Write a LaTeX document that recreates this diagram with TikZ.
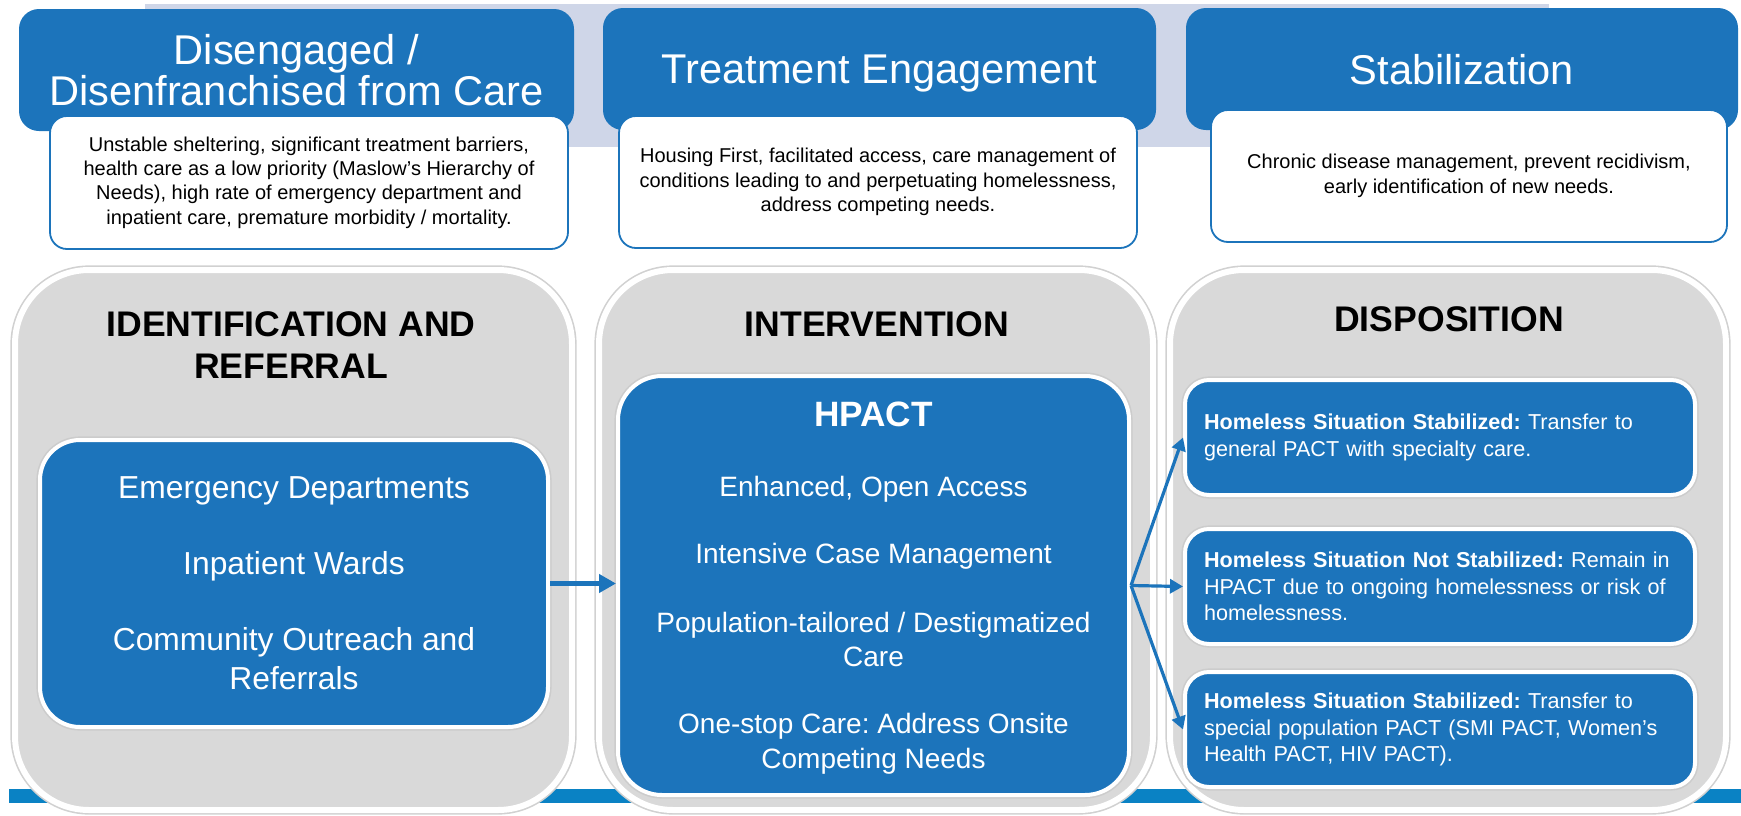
\documentclass[tikz,border=0pt]{standalone}
\usepackage{fontspec}
\setmainfont{Liberation Sans}
\usetikzlibrary{arrows.meta}
\definecolor{hblue}{RGB}{28,116,187}
\definecolor{hline}{RGB}{10,130,196}
\definecolor{hgray}{RGB}{217,217,217}
\definecolor{hband}{RGB}{207,214,232}
\tikzset{
	headbox/.style={fill=hblue, rounded corners=10pt, inner sep=0pt, text=white, text depth=0pt, align=center, font=\fontsize{20.8}{20.75}\selectfont},
	notebox/.style={fill=white, draw=hblue, line width=0.9pt, rounded corners=8.5pt, inner sep=0pt, align=center, font=\fontsize{10}{12.2}\selectfont},
	panel/.style={fill=hgray, draw=white, line width=3pt, rounded corners=37pt, preaction={draw=black!18, line width=4.6pt}},
	coltitle/.style={inner sep=0pt, align=center, font=\bfseries\fontsize{17.8}{21}\selectfont},
	stepbox/.style={fill=hblue, draw=white, line width=2pt, text=white, inner sep=0pt, align=center, preaction={draw=black!20, line width=3.6pt}},
	outbox/.style={stepbox, rounded corners=12pt, minimum width=255pt, minimum height=57.5pt, text width=236pt, inner xsep=9.5pt, align=left, font=\fontsize{10.8}{13.3}\selectfont},
	flow/.style={draw=hblue, line width=2.2pt, -{Triangle[length=8.5pt, width=9pt]}},
	fanflow/.style={draw=hblue, line width=1.6pt, -{Triangle[length=6.5pt, width=7pt]}}
}

\begin{document}
\frenchspacing
\begin{tikzpicture}[x=0.5pt,y=-0.5pt]
	%%%%% START %%%%%
	\useasboundingbox (0,0) rectangle (1741,815);
	\clip (0,0) rectangle (1741,815);
	
	% band behind the headers, rule along the foot
	\draw[fill=hband, draw=none] (145,4) rectangle (1549,147);
	\draw[fill=hline, draw=none] (9,789) rectangle (1741,803);
	
	% grey columns
	\node[panel, minimum width=278.5pt, minimum height=270pt] (col1) at (293.5,540) {};
	\node[panel, minimum width=277pt, minimum height=270pt] (col2) at (876,540) {};
	\node[panel, minimum width=278pt, minimum height=270pt] (col3) at (1448,540) {};
	
	% stage headers
	\node[headbox, minimum width=277.5pt, minimum height=61pt] (stage1) at (296.5,70) {Disengaged /\\Disenfranchised from Care};
	\node[headbox, minimum width=276.5pt, minimum height=61pt] (stage2) at (879.5,69) {Treatment Engagement};
	\node[headbox, minimum width=276pt, minimum height=61pt] (stage3) at (1462,69) {Stabilization};
	
	\node[notebox, minimum width=259pt, minimum height=66.5pt] (note1) at (309,182.5) {Unstable sheltering, significant treatment barriers,\\health care as a low priority (Maslow’s Hierarchy of\\Needs), high rate of emergency department and\\inpatient care, premature morbidity / mortality.};
	\node[notebox, minimum width=259pt, minimum height=66pt] (note2) at (878,182) {Housing First, facilitated access, care management of\\conditions leading to and perpetuating homelessness,\\address competing needs.};
	\node[notebox, minimum width=258pt, minimum height=66pt] (note3) at (1469,176) {Chronic disease management, prevent recidivism,\\early identification of new needs.};
	
	% column titles
	\node[coltitle] (title1) at (291,345) {IDENTIFICATION AND\\REFERRAL};
	\node[coltitle] (title2) at (877,324) {INTERVENTION};
	\node[coltitle] (title3) at (1449,319) {DISPOSITION};
	
	% referral sources
	\node[stepbox, rounded corners=20pt, minimum width=254pt, minimum height=143.5pt, font=\fontsize{15.9}{19.5}\selectfont] (refbox) at (294,583.5) {Emergency Departments\\[18.5pt]Inpatient Wards\\[18.5pt]Community Outreach and\\Referrals};
	
	% hpact
	\node[stepbox, rounded corners=22pt, minimum width=255.5pt, minimum height=209.5pt, text depth=0pt, font=\fontsize{14}{17}\selectfont] (hpact) at (873.5,585.5) {{\bfseries\fontsize{17.6}{17}\selectfont HPACT}\\[18pt]Enhanced, Open Access\\[16.5pt]Intensive Case Management\\[17.5pt]Population-tailored / Destigmatized\\Care\\[16.5pt]One-stop Care: Address Onsite\\[0.5pt]Competing Needs};
	
	% outcomes
	\node[outbox] (outa) at (1440,437.5) {\textbf{Homeless Situation Stabilized:} Transfer to\\general PACT with specialty care.};
	\node[outbox] (outb) at (1440,586.5) {\textbf{Homeless Situation Not Stabilized:} Remain in\\HPACT due to ongoing homelessness or risk of\\homelessness.};
	\node[outbox] (outc) at (1440,729.5) {\textbf{Homeless Situation Stabilized:} Transfer to\\special population PACT (SMI PACT, Women’s\\Health PACT, HIV PACT).};
	
	% arrows
	\draw[flow] (refbox.east) -- (refbox.east -| hpact.west);
	\draw[fanflow] (hpact.east) -- (outa.west);
	\draw[fanflow] (hpact.east) -- (outb.west);
	\draw[fanflow] (hpact.east) -- (outc.west);
	%%%%% END %%%%%
\end{tikzpicture}
\end{document}
